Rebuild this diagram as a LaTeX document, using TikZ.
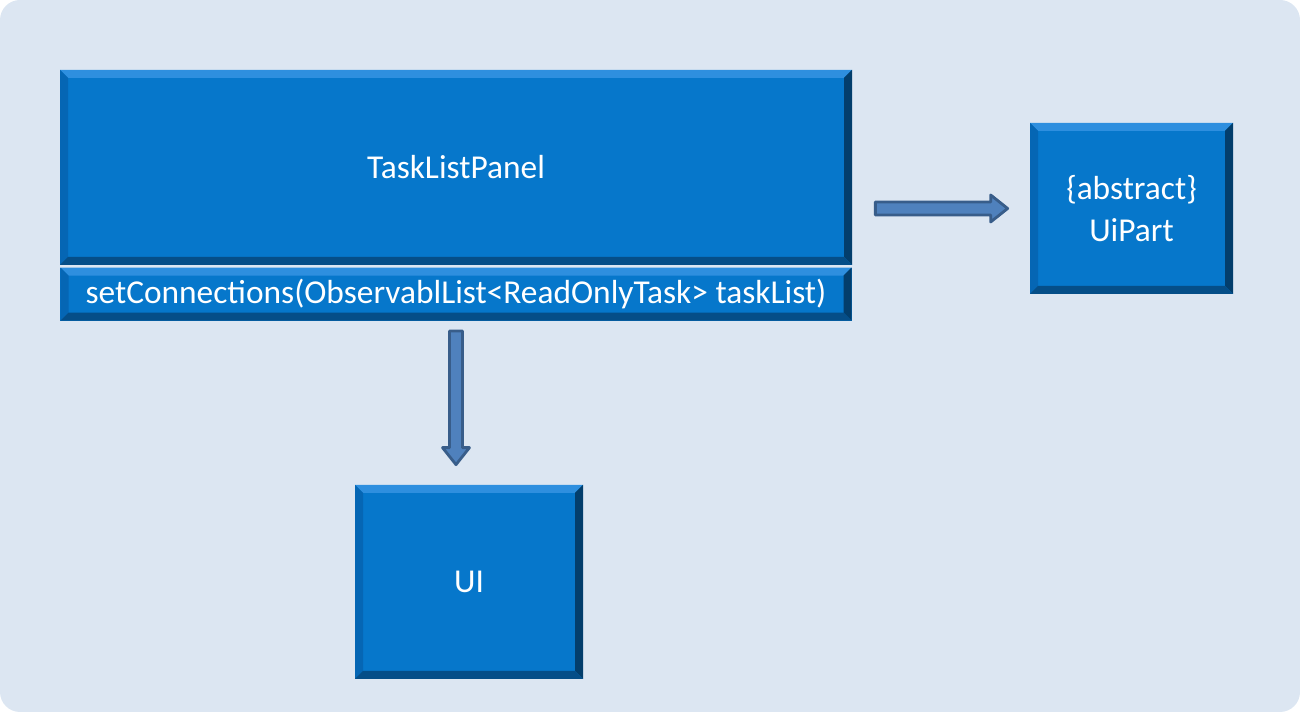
\documentclass[tikz,border=0pt]{standalone}
\usepackage{fontspec}
\setmainfont{Carlito}
\usepackage{tikz}
\usetikzlibrary{positioning,calc}
\usepackage{xcolor}
\definecolor{bgblue}{HTML}{DCE6F2}
\definecolor{boxblue}{HTML}{0677CB}
\definecolor{boxtop}{HTML}{2E8FDF}
\definecolor{boxleft}{HTML}{0566B4}
\definecolor{boxright}{HTML}{033E6C}
\definecolor{boxbottom}{HTML}{054E88}
\definecolor{arrowfill}{HTML}{4F81BD}
\definecolor{arrowedge}{HTML}{385D8A}

\begin{document}
\begin{tikzpicture}[
    box/.style={fill=boxblue, inner sep=0pt, align=center, text=white,
        font=\fontsize{19}{24}\selectfont,
        path picture={
            \coordinate (nw) at (path picture bounding box.north west);
            \coordinate (ne) at (path picture bounding box.north east);
            \coordinate (sw) at (path picture bounding box.south west);
            \coordinate (se) at (path picture bounding box.south east);
            \fill[boxtop] (nw) -- (ne) -- ($(ne)+(-0.16,-0.16)$) -- ($(nw)+(0.16,-0.16)$) -- cycle;
            \fill[boxleft] (nw) -- (sw) -- ($(sw)+(0.16,0.16)$) -- ($(nw)+(0.16,-0.16)$) -- cycle;
            \fill[boxright] (ne) -- (se) -- ($(se)+(-0.16,0.16)$) -- ($(ne)+(-0.16,-0.16)$) -- cycle;
            \fill[boxbottom] (sw) -- (se) -- ($(se)+(-0.16,0.16)$) -- ($(sw)+(0.16,0.16)$) -- cycle;
        }},
    blockarrow/.style={draw=arrowedge, fill=arrowfill, line width=1.6pt, line join=round,
        to path={
            ($(\tikztostart)!0.13cm!90:(\tikztotarget)$)
            -- ($($(\tikztotarget)!0.34cm!(\tikztostart)$)!0.13cm!-90:(\tikztostart)$)
            -- ($($(\tikztotarget)!0.34cm!(\tikztostart)$)!0.27cm!-90:(\tikztostart)$)
            -- (\tikztotarget)
            -- ($($(\tikztotarget)!0.34cm!(\tikztostart)$)!0.27cm!90:(\tikztostart)$)
            -- ($($(\tikztotarget)!0.34cm!(\tikztostart)$)!0.13cm!90:(\tikztostart)$)
            -- ($(\tikztostart)!0.13cm!-90:(\tikztotarget)$)
            -- cycle
        }}
]

% ---- Background ----
\fill[bgblue, rounded corners=0.4cm] (0,0) rectangle (26,14.24);
\useasboundingbox (0,0) rectangle (26,14.24);

% ---- Classes ----
\node[box, minimum width=15.84cm, minimum height=3.9cm] (panel) at (9.12, 10.89) {TaskListPanel};
\node[box, minimum width=15.82cm, minimum height=1.06cm, below=0.04cm of panel] (method)
    {setConnections(ObservablList<ReadOnlyTask> taskList)};
\node[box, minimum width=4.06cm, minimum height=3.42cm] (uipart) at (22.63, 10.07) {\{abstract\}\\UiPart};
\node[box, minimum width=4.56cm, minimum height=3.88cm] (ui) at (9.38, 2.6) {UI};

% ---- Arrows ----
\coordinate (inherit start) at ($(panel.east |- uipart.west)+(0.46,0)$);
\coordinate (inherit end) at ($(uipart.west)+(-0.44,0)$);
\draw[blockarrow] (inherit start) to (inherit end);

\coordinate (use start) at ($(panel.center |- method.south)+(0,-0.2)$);
\coordinate (use end) at ($(panel.center |- ui.north)+(0,0.4)$);
\draw[blockarrow] (use start) to (use end);

\end{tikzpicture}
\end{document}
